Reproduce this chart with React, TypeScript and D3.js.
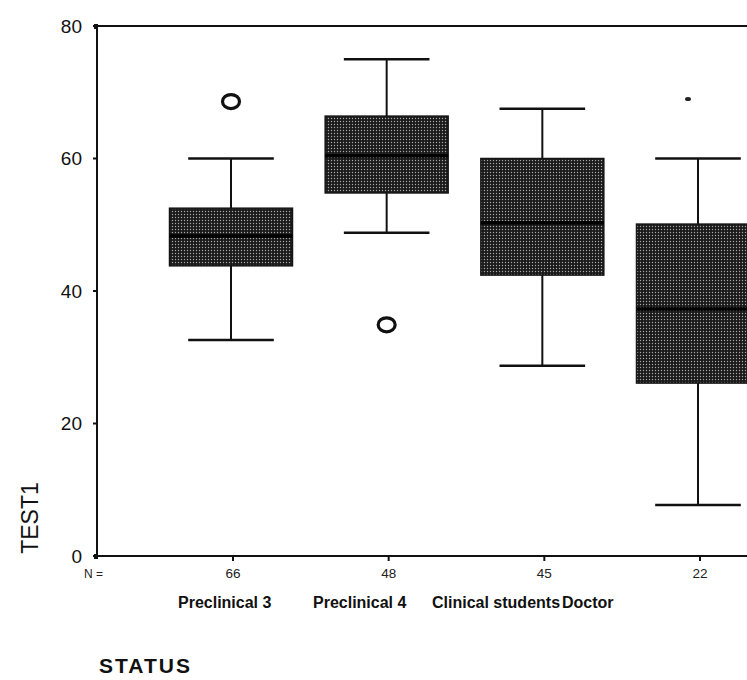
import React from "react";
import * as d3 from "d3";

const categories = ["Preclinical 3", "Preclinical 4", "Clinical students", "Doctor"];
const counts = [66, 48, 45, 22];
const whiskerLow = [32.6, 48.8, 28.7, 7.7];
const quartile1 = [43.8, 54.8, 42.4, 26.1];
const medians = [48.3, 60.4, 50.3, 37.3];
const quartile3 = [52.5, 66.4, 60.0, 50.1];
const whiskerHigh = [60.0, 75.0, 67.5, 60.0];
const outliers = [
  { cat: "Preclinical 3", value: 68.6 },
  { cat: "Preclinical 4", value: 34.9 },
];
const extremes = [{ cat: "Doctor", value: 69.0 }];
const yTicks = [0, 20, 40, 60, 80];
const yDomain = [0, 80];

// layout
const W = 747;
const H = 680;
const left = 97;
const top = 26;
const bottom = 556;
const labelStarts = [178, 313, 432, 562];

export default function App() {
  const y = d3.scaleLinear().domain(yDomain).range([bottom, top]);
  const x = d3.scalePoint<string>().domain(categories).range([231, 698]);
  const step = x.step();
  const boxW = step * 0.79;
  const capW = step * 0.55;
  const font = "'Liberation Sans', Arial, sans-serif";

  return (
    <svg
      width={W}
      height={H}
      style={{ position: "absolute", left: 0, top: 0, background: "#fff" }}
      fontFamily={font}
    >
      <defs>
        <pattern id="dots" width="3" height="3" patternUnits="userSpaceOnUse">
          <rect width="3" height="3" fill="#1a1a1a" />
          <circle cx="1.5" cy="1.5" r="0.7" fill="#a8a8a8" />
        </pattern>
      </defs>

      {/* frame */}
      <line x1={left} x2={W} y1={top} y2={top} stroke="#111" strokeWidth={2} />
      <line x1={left} x2={left} y1={top - 1} y2={bottom + 1} stroke="#111" strokeWidth={2} />
      <line x1={left} x2={W} y1={bottom} y2={bottom} stroke="#111" strokeWidth={2} />
      <rect x={left - 3} y={bottom - 2} width={4} height={5} fill="#111" />
      <rect x={left - 3} y={top - 2} width={4} height={5} fill="#111" />

      {/* y ticks */}
      {yTicks.map((t) => (
        <g key={t}>
          <line x1={left - 4} x2={left} y1={y(t)} y2={y(t)} stroke="#111" strokeWidth={2} />
          <text
            x={left - 15}
            y={y(t)}
            dy="0.36em"
            textAnchor="end"
            fontSize={19}
            fill="#111"
          >
            {t}
          </text>
        </g>
      ))}

      {/* boxes */}
      {categories.map((c, i) => {
        const cx = x(c)!;
        return (
          <g key={c}>
            <line x1={cx} x2={cx} y1={y(whiskerHigh[i])} y2={y(quartile3[i])} stroke="#111" strokeWidth={2} />
            <line x1={cx} x2={cx} y1={y(quartile1[i])} y2={y(whiskerLow[i])} stroke="#111" strokeWidth={2} />
            <line x1={cx - capW / 2} x2={cx + capW / 2} y1={y(whiskerHigh[i])} y2={y(whiskerHigh[i])} stroke="#111" strokeWidth={2.5} />
            <line x1={cx - capW / 2} x2={cx + capW / 2} y1={y(whiskerLow[i])} y2={y(whiskerLow[i])} stroke="#111" strokeWidth={2.5} />
            <rect
              x={cx - boxW / 2}
              y={y(quartile3[i])}
              width={boxW}
              height={y(quartile1[i]) - y(quartile3[i])}
              fill="url(#dots)"
              stroke="#151515"
              strokeWidth={1.5}
            />
            <line x1={cx - boxW / 2} x2={cx + boxW / 2} y1={y(medians[i])} y2={y(medians[i])} stroke="#000" strokeWidth={3.5} />
            {/* axis tick mark and N */}
            <line x1={cx + 2} x2={cx + 2} y1={bottom + 1} y2={bottom + 5} stroke="#111" strokeWidth={2} />
            <text x={cx + 2} y={578} textAnchor="middle" fontSize={13.5} fill="#222">
              {counts[i]}
            </text>
          </g>
        );
      })}

      {outliers.map((o, i) => (
        <ellipse
          key={i}
          cx={x(o.cat)!}
          cy={y(o.value)}
          rx={8.5}
          ry={7}
          fill="none"
          stroke="#111"
          strokeWidth={3.2}
        />
      ))}
      {extremes.map((o, i) => (
        <ellipse key={i} cx={x(o.cat)! - 10} cy={y(o.value)} rx={3} ry={2} fill="#222" />
      ))}

      <text x={84} y={578} fontSize={12} fill="#222">N =</text>

      {/* category labels */}
      {categories.map((c, i) => (
        <text key={c} x={labelStarts[i]} y={608} fontSize={16} fontWeight="bold" fill="#111">
          {c}
        </text>
      ))}

      {/* axis titles */}
      <text
        transform={`translate(38, 518) rotate(-90)`}
        textAnchor="middle"
        fontSize={23}
        fill="#111"
      >
        TEST1
      </text>
      <text x={99} y={673} fontSize={21} fontWeight="bold" letterSpacing={2} fill="#111">
        STATUS
      </text>
    </svg>
  );
}
